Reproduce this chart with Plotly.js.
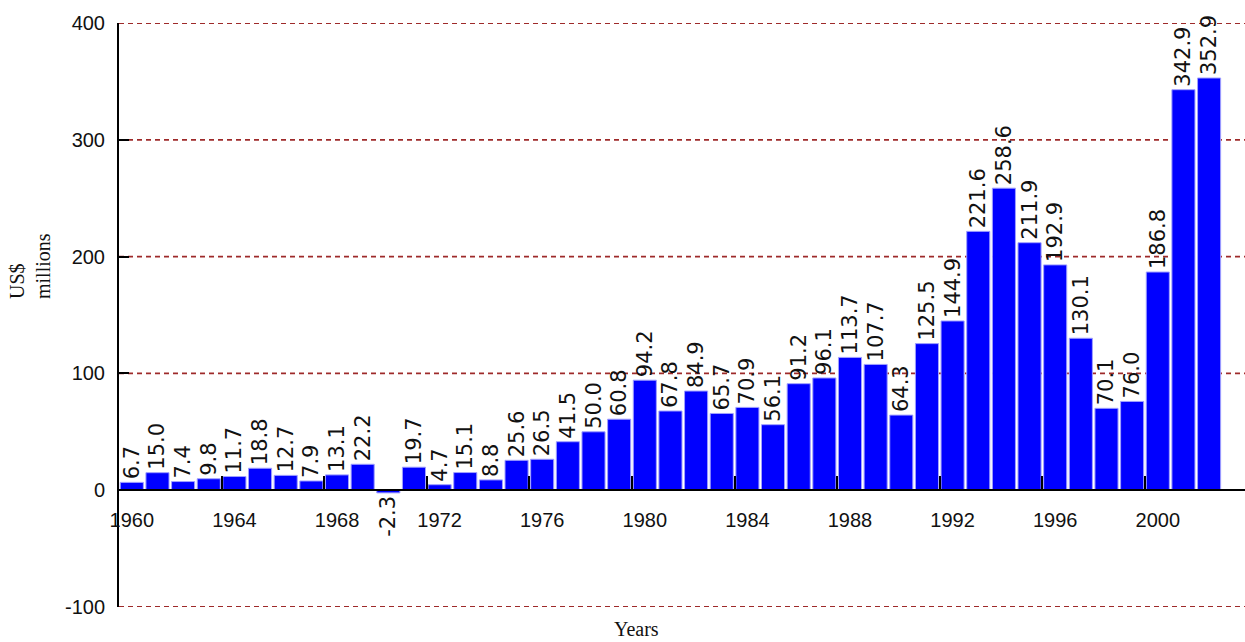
<!DOCTYPE html>
<html>
<head>
<meta charset="utf-8">
<script src="https://cdn.plot.ly/plotly-3.0.1.min.js"></script>
<style>html,body{margin:0;padding:0;background:#fff;}#chart{width:1245px;height:642px;}</style>
</head>
<body>
<div id="chart"></div>
<script>
const years = [1960,1961,1962,1963,1964,1965,1966,1967,1968,1969,
  1970,1971,1972,1973,1974,1975,1976,1977,1978,1979,
  1980,1981,1982,1983,1984,1985,1986,1987,1988,1989,
  1990,1991,1992,1993,1994,1995,1996,1997,1998,1999,
  2000,2001,2002];
const values = [6.7,15.0,7.4,9.8,11.7,18.8,12.7,7.9,13.1,22.2,
  -2.3,19.7,4.7,15.1,8.8,25.6,26.5,41.5,50.0,60.8,
  94.2,67.8,84.9,65.7,70.9,56.1,91.2,96.1,113.7,107.7,
  64.3,125.5,144.9,221.6,258.6,211.9,192.9,130.1,70.1,76.0,
  186.8,342.9,352.9];
const tickYears = [1960,1964,1968,1972,1976,1980,1984,1988,1992,1996,2000];
const yTicks = [-100,0,100,200,300,400];
const gridValues = [-100,100,200,300,400];
const yTitle = "US$<br>millions";
const xTitle = "Years";

const xRange = [1959.5, 2003.4];
const yRange = [-100, 400];
const zeroPos = (0 - yRange[0]) / (yRange[1] - yRange[0]);

const trace = {
  type: 'bar',
  x: years,
  y: values,
  width: 0.9,
  marker: {color: '#0000ff', line: {color: '#a0a0ff', width: 1}},
  text: values.map(v => v.toFixed(1)),
  textposition: 'outside',
  textangle: -90,
  constraintext: 'none',
  cliponaxis: false,
  textfont: {family: 'DejaVu Sans', size: 21, color: '#111'},
  hoverinfo: 'none'
};
// carrier for the secondary axis that draws the tick marks at the bar edges
const tickCarrier = {
  type: 'scatter', x: [years[0]], y: [0], mode: 'none',
  xaxis: 'x2', yaxis: 'y', hoverinfo: 'none', showlegend: false
};

const shapes = gridValues.map(v => ({
  type: 'line', xref: 'paper', yref: 'y', x0: 0, x1: 1, y0: v, y1: v,
  layer: 'below', line: {color: '#9e2a2a', width: 1.8, dash: '5px,4px'}
}));

const layout = {
  width: 1245, height: 642,
  margin: {l: 119, r: 0, t: 23, b: 35},
  paper_bgcolor: '#fff', plot_bgcolor: '#fff',
  showlegend: false,
  hovermode: false,
  shapes: shapes,
  xaxis: {
    range: xRange,
    anchor: 'free', position: zeroPos,
    showgrid: false, zeroline: false,
    showline: true, linecolor: '#000', linewidth: 2,
    tickmode: 'array',
    tickvals: tickYears,
    ticktext: tickYears.map(String),
    ticks: '',
    ticklabelstandoff: 12,
    tickfont: {family: 'Liberation Sans', size: 20, color: '#111'}
  },
  xaxis2: {
    range: xRange,
    overlaying: 'x',
    anchor: 'free', position: zeroPos,
    showgrid: false, zeroline: false, showline: false,
    tickmode: 'array',
    tickvals: tickYears.map(y => y - 0.5),
    showticklabels: false,
    ticks: 'inside', ticklen: 14, tickwidth: 2, tickcolor: '#000'
  },
  yaxis: {
    range: yRange,
    tickmode: 'array',
    tickvals: yTicks,
    ticktext: yTicks.map(String),
    showgrid: false,
    zeroline: false,
    showline: true, linecolor: '#000', linewidth: 2,
    ticks: 'inside', ticklen: 10, tickwidth: 2, tickcolor: '#000',
    ticklabelstandoff: 8,
    tickfont: {family: 'Liberation Sans', size: 20, color: '#111'}
  },
  annotations: [
    {text: yTitle, xref: 'paper', yref: 'paper', x: -0.079, y: 0.584,
     xanchor: 'center', yanchor: 'middle', textangle: -90, align: 'left',
     showarrow: false, font: {family: 'Liberation Serif', size: 20, color: '#111'}},
    {text: xTitle, xref: 'paper', yref: 'paper', x: 0.46, y: -0.016,
     xanchor: 'center', yanchor: 'top', showarrow: false,
     font: {family: 'Liberation Serif', size: 20, color: '#111'}}
  ]
};

Plotly.newPlot('chart', [trace, tickCarrier], layout, {displayModeBar: false, staticPlot: true});
</script>
</body>
</html>
